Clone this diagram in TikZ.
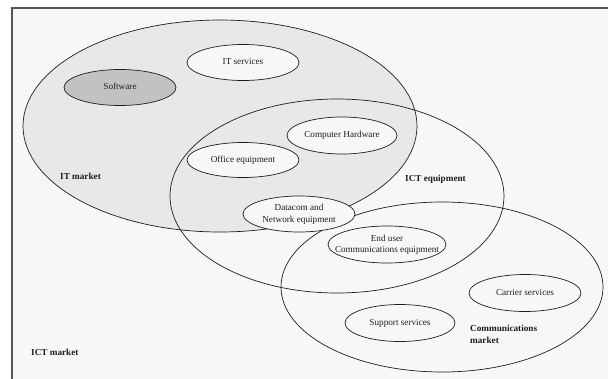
\documentclass[tikz,border=0pt]{standalone}
\usepackage{fontspec}
\setmainfont{Liberation Serif}
\usetikzlibrary{shapes.geometric}

\definecolor{pagebg}{HTML}{F7F7F7}
\definecolor{itfill}{HTML}{E8E8E8}
\definecolor{swfill}{HTML}{C2C2C2}
\definecolor{framegray}{HTML}{555555}
\definecolor{ink}{HTML}{1E1E1E}

\tikzset{
  market/.style={ellipse, draw=ink, line width=0.7pt, inner sep=0pt},
  segment/.style={ellipse, draw=ink, fill=pagebg, line width=0.7pt, inner sep=0pt,
    text=ink, font=\fontsize{9.2}{11.5}\selectfont},
  marketlabel/.style={anchor=west, inner sep=0pt, align=left, text=ink,
    font=\fontsize{9.2}{12}\selectfont\bfseries}
}
\newcommand{\segtext}[1]{\makebox[0pt]{\begin{tabular}{@{}c@{}}#1\end{tabular}}}

\begin{document}
\begin{tikzpicture}[x=1pt, y=-1pt]
\path[use as bounding box, clip] (0,0) rectangle (608,378);
\draw[fill=pagebg, draw=framegray, line width=2pt] (12,8) rectangle (620,390);

% the three markets
\node (itm) at (220,126) [market, fill=itfill, minimum width=394pt, minimum height=212pt] {};
\node (icte) at (337,196) [market, minimum width=334pt, minimum height=194pt] {};
\node (comm) at (442,287) [market, minimum width=322pt, minimum height=170pt] {};

% segments
\node (sw) at (120,87.5) [segment, fill=swfill, minimum width=112pt, minimum height=36pt] {\segtext{Software}};
\node (its) at (243,62.5) [segment, minimum width=112pt, minimum height=36pt] {\segtext{IT services}};
\node (hw) at (342,135.5) [segment, minimum width=110pt, minimum height=37pt] {\segtext{Computer Hardware}};
\node (off) at (243,160) [segment, minimum width=112pt, minimum height=35pt] {\segtext{Office equipment}};
\node (dc) at (299,214) [segment, minimum width=112pt, minimum height=36pt] {\segtext{Datacom and\\Network equipment}};
\node (eu) at (387,244.5) [segment, minimum width=118pt, minimum height=37pt] {\raisebox{5pt}{\segtext{End user\\Communications equipment}}};
\node (cs) at (525,293) [segment, minimum width=112pt, minimum height=37pt] {\segtext{Carrier services}};
\node (ss) at (400,323) [segment, minimum width=110pt, minimum height=37pt] {\segtext{Support services}};

% labels
\node (itlab) at (60,176) [marketlabel] {IT market};
\node (ictelab) at (405,179) [marketlabel] {ICT equipment};
\node (commlab) at (470,334) [marketlabel] {Communications\\market};
\node (ictlab) at (31,352) [marketlabel] {ICT market};
\end{tikzpicture}
\end{document}
